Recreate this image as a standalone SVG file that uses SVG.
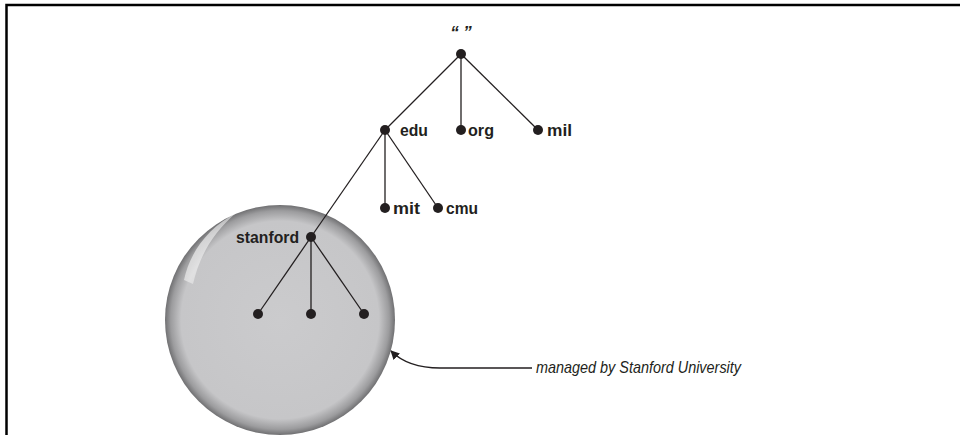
<svg xmlns="http://www.w3.org/2000/svg" width="960" height="435" viewBox="0 0 960 435">
<defs>
<radialGradient id="ball" cx="0.5" cy="0.5" r="0.5">
<stop offset="0" stop-color="#cbcbcd"/>
<stop offset="0.86" stop-color="#c6c6c8"/>
<stop offset="0.95" stop-color="#9c9c9e"/>
<stop offset="1" stop-color="#707072"/>
</radialGradient>
<linearGradient id="hl" x1="0" y1="0" x2="1" y2="1">
<stop offset="0" stop-color="#ffffff" stop-opacity="0.95"/>
<stop offset="1" stop-color="#ffffff" stop-opacity="0"/>
</linearGradient>
<marker id="arr" viewBox="0 0 10 10" refX="9" refY="5" markerWidth="9" markerHeight="9" orient="auto" markerUnits="userSpaceOnUse">
<path d="M0,0 L10,5 L0,10 z" fill="#231f20"/>
</marker>
<style>
.lbl{font-family:"Liberation Sans",Arial,sans-serif;font-weight:bold;font-size:17px;fill:#231f20}
.cap{font-family:"Liberation Sans",Arial,sans-serif;font-style:italic;font-size:17px;fill:#231f20}
.e{stroke:#231f20;stroke-width:1.3;fill:none}
.d{fill:#231f20}
</style>
</defs>
<rect width="960" height="435" fill="#fff"/>
<path d="M6.5,435 V5 H960" fill="none" stroke="#000" stroke-width="2.5"/>
<g id="zone">
<circle cx="280" cy="320" r="115" fill="url(#ball)"/>
<path d="M184,280 C190,252 208,228 236,213 C214,232 200,254 193,284 Z" fill="url(#hl)"/>
</g>
<g id="connectors">
<line class="e" x1="461" y1="54" x2="385" y2="130"/>
<line class="e" x1="461" y1="54" x2="461" y2="130"/>
<line class="e" x1="461" y1="54" x2="538" y2="130"/>
<line class="e" x1="385" y1="130" x2="385" y2="208"/>
<line class="e" x1="385" y1="130" x2="438" y2="208"/>
<line class="e" x1="385" y1="130" x2="311" y2="237"/>
<line class="e" x1="311" y1="237" x2="258" y2="314"/>
<line class="e" x1="311" y1="237" x2="311" y2="314"/>
<line class="e" x1="311" y1="237" x2="364" y2="314"/>
<path class="e" d="M532,368 H440 C418,368 402,362 391,351" marker-end="url(#arr)"/>
</g>
<g id="root"><circle class="d" cx="461" cy="54" r="5"/><text class="cap" x="461" y="38" text-anchor="middle" font-weight="bold" font-size="14">“ ”</text></g>
<g id="edu"><circle class="d" cx="385" cy="130" r="5"/><text class="lbl" x="400" y="136" textLength="28" lengthAdjust="spacingAndGlyphs">edu</text></g>
<g id="org"><circle class="d" cx="461" cy="130" r="5"/><text class="lbl" x="468" y="136" textLength="26" lengthAdjust="spacingAndGlyphs">org</text></g>
<g id="mil"><circle class="d" cx="538" cy="130" r="5"/><text class="lbl" x="547" y="136" textLength="25" lengthAdjust="spacingAndGlyphs">mil</text></g>
<g id="mit"><circle class="d" cx="385" cy="208" r="5"/><text class="lbl" x="393" y="214" textLength="27" lengthAdjust="spacingAndGlyphs">mit</text></g>
<g id="cmu"><circle class="d" cx="438" cy="208" r="5"/><text class="lbl" x="446" y="214" textLength="32" lengthAdjust="spacingAndGlyphs">cmu</text></g>
<g id="stanford"><circle class="d" cx="311" cy="237" r="5"/><text class="lbl" x="236" y="243" textLength="63" lengthAdjust="spacingAndGlyphs">stanford</text></g>
<g id="leaf1"><circle class="d" cx="258" cy="314" r="5"/></g>
<g id="leaf2"><circle class="d" cx="311" cy="314" r="5"/></g>
<g id="leaf3"><circle class="d" cx="364" cy="314" r="5"/></g>
<g id="caption"><text class="cap" x="536" y="373" textLength="205" lengthAdjust="spacingAndGlyphs">managed by Stanford University</text></g>
</svg>
